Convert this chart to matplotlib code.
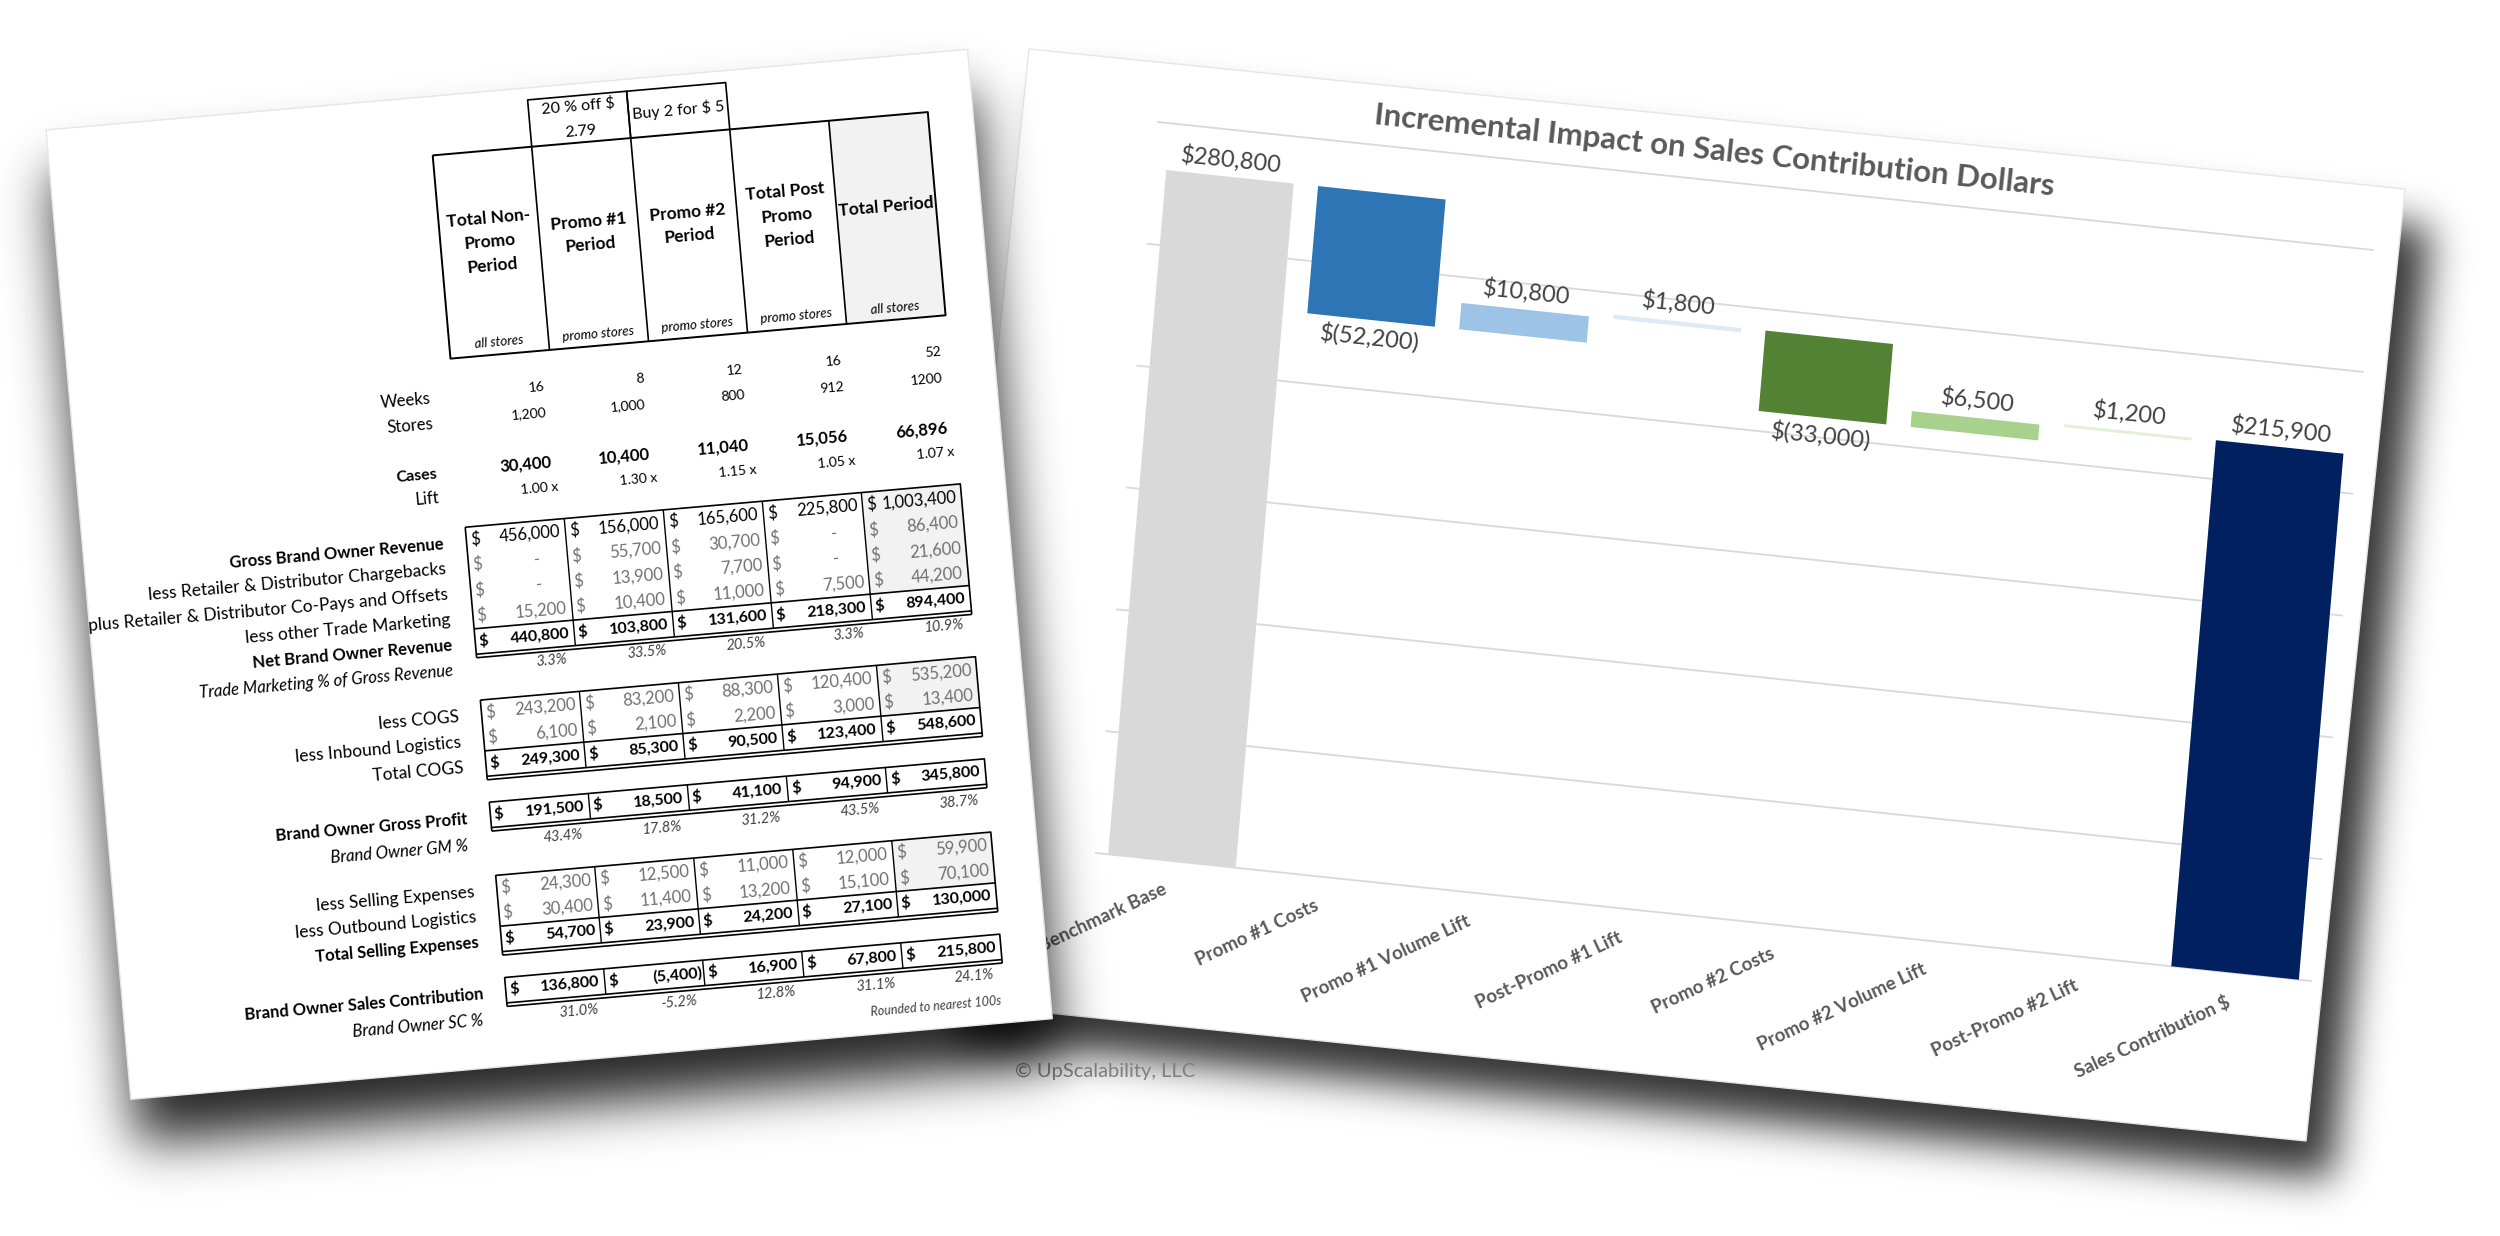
import numpy as np
import matplotlib
matplotlib.use("Agg")
import matplotlib.pyplot as plt
from matplotlib.patches import Polygon, Rectangle
from matplotlib.path import Path
from matplotlib.transforms import Affine2D

plt.rcParams['font.family'] = ['Lato', 'DejaVu Sans']

# ---------------- waterfall data ----------------
steps = ["Benchmark Base", "Promo #1 Costs", "Promo #1 Volume Lift", "Post-Promo #1 Lift",
         "Promo #2 Costs", "Promo #2 Volume Lift", "Post-Promo #2 Lift", "Sales Contribution $"]
step_values = [280800, -52200, 10800, 1800, -33000, 6500, 1200, 215900]
step_colors = ["#d9d9d9", "#2e75b6", "#9dc3e6", "#deebf7", "#548235", "#a9d18e", "#e2f0d9", "#002060"]
chart_title = "Incremental Impact on Sales Contribution Dollars"

# ---------------- table data ----------------
periods = ["Total Non-\nPromo\nPeriod", "Promo #1\nPeriod", "Promo #2\nPeriod",
           "Total Post\nPromo\nPeriod", "Total Period"]
period_scope = ["all stores", "promo stores", "promo stores", "promo stores", "all stores"]
promo_offers = ["20 % off $\n2.79", "Buy 2 for $ 5"]
weeks = ["16", "8", "12", "16", "52"]
stores = ["1,200", "1,000", "800", "912", "1200"]
cases = [30400, 10400, 11040, 15056, 66896]
lift = [1.00, 1.30, 1.15, 1.05, 1.07]
gross_rev = [456000, 156000, 165600, 225800, 1003400]
chargebacks = [0, 55700, 30700, 0, 86400]
copays = [0, 13900, 7700, 0, 21600]
other_trade = [15200, 10400, 11000, 7500, 44200]
net_rev = [440800, 103800, 131600, 218300, 894400]
trade_pct = [3.3, 33.5, 20.5, 3.3, 10.9]
cogs = [243200, 83200, 88300, 120400, 535200]
inbound = [6100, 2100, 2200, 3000, 13400]
total_cogs = [249300, 85300, 90500, 123400, 548600]
gross_profit = [191500, 18500, 41100, 94900, 345800]
gm_pct = [43.4, 17.8, 31.2, 43.5, 38.7]
selling = [24300, 12500, 11000, 12000, 59900]
outbound = [30400, 11400, 13200, 15100, 70100]
total_selling = [54700, 23900, 24200, 27100, 130000]
sales_contrib = [136800, -5400, 16900, 67800, 215800]
sc_pct = [31.0, -5.2, 12.8, 31.1, 24.1]

fig = plt.figure(figsize=(25, 12.36), dpi=100)
ax = fig.add_axes([0, 0, 1, 1])
W, H = 2500, 1236


def soft_shadow(corners, dx, dy, sigma, strength, ds=4):
    h, w = H // ds + 1, W // ds + 1
    gx, gy = np.meshgrid((np.arange(w) + 0.5) * ds - dx, (np.arange(h) + 0.5) * ds - dy)
    pts = np.column_stack([gx.ravel(), gy.ravel()])
    inside = Path(corners).contains_points(pts).reshape(h, w).astype(float)
    r = int(3 * sigma / ds)
    k = np.exp(-0.5 * (np.arange(-r, r + 1) * ds / sigma) ** 2)
    k /= k.sum()
    blur = np.apply_along_axis(lambda m: np.convolve(m, k, mode='same'), 1, inside)
    blur = np.apply_along_axis(lambda m: np.convolve(m, k, mode='same'), 0, blur)
    rgba = np.zeros((h, w, 4))
    rgba[..., 3] = blur * strength
    return rgba, (0, w * ds, h * ds, 0)


# ---------------- right sheet (chart) ----------------
right_sheet = np.array([(1029, 49), (2405, 189), (2306, 1141), (930, 1001)])
img, ext = soft_shadow(right_sheet, 26, 38, 20, 0.8)
ax.imshow(img, extent=ext, zorder=1, interpolation='bilinear')
ax.add_patch(Polygon(right_sheet, closed=True, fc='white', ec='#e6e6e6', lw=1, zorder=2))

# chart plane: u = category index, v = dollars
p00 = np.array([1096.0, 853.0])
p10 = np.array([2311.0, 981.0])
p01 = np.array([1158.0, 122.0])
eu = (p10 - p00) / len(steps)
ev = (p01 - p00) / 300000
chart_aff = Affine2D.from_values(eu[0], eu[1], ev[0], ev[1],
                                 p00[0] + 0.5 * eu[0], p00[1] + 0.5 * eu[1])
ctf = chart_aff + ax.transData
crot = -np.degrees(np.arctan2(eu[1], eu[0]))

for g in range(0, 300001, 50000):
    ax.plot([-0.5, len(steps) - 0.5], [g, g], color='#d9d9d9', lw=1.3, transform=ctf, zorder=3)

bottoms, heights, running = [], [], 0
for i, val in enumerate(step_values):
    if i == 0 or i == len(step_values) - 1:
        bottoms.append(0)
        heights.append(val)
        running = val
    else:
        bottoms.append(min(running, running + val))
        heights.append(abs(val))
        running += val

ax.bar(range(len(steps)), heights, bottom=bottoms, width=0.84, color=step_colors,
       transform=ctf, zorder=4)

for i, val in enumerate(step_values):
    txt = f"${val:,}" if val >= 0 else f"$({abs(val):,})"
    if val >= 0:
        ax.text(i, bottoms[i] + heights[i] + 2500, txt, transform=ctf, ha='center', va='bottom',
                rotation=crot, rotation_mode='anchor', fontsize=17, color='#404040', zorder=5)
    else:
        ax.text(i, bottoms[i] - 2500, txt, transform=ctf, ha='center', va='top',
                rotation=crot, rotation_mode='anchor', fontsize=17, color='#404040', zorder=5)
    ax.text(i - 0.05, -8500, steps[i], transform=ctf, ha='right', va='top', rotation=25,
            rotation_mode='anchor', fontsize=13.5, fontweight='bold', color='#595959', zorder=5)

ax.text(3.15, 312000, chart_title, transform=ctf, ha='center', va='center', rotation=crot,
        rotation_mode='anchor', fontsize=22.5, fontweight='bold', color='#595959', zorder=5)

ax.text(1105, 1071, "\u00a9 UpScalability, LLC", ha='center', va='center', fontsize=14.5,
        color='#7f7f7f', zorder=5)

# ---------------- left sheet (table) ----------------
theta = np.radians(5.0)
cs, sn = np.cos(theta), np.sin(theta)
left_aff = Affine2D.from_values(cs, -sn, sn, cs, 46, 130)
ltf = left_aff + ax.transData
lrot = 5.0
sheet_w, sheet_h = 925, 973
left_corners = left_aff.transform(np.array([(0, 0), (sheet_w, 0), (sheet_w, sheet_h), (0, sheet_h)]))
img, ext = soft_shadow(left_corners, 6, 44, 26, 0.85)
ax.imshow(img, extent=ext, zorder=6, interpolation='bilinear')
ax.add_patch(Polygon(left_corners, closed=True, fc='white', ec='#e6e6e6', lw=1, zorder=7))


def ltext(u, v, s, **kw):
    kw.setdefault('fontsize', 12.5)
    kw.setdefault('color', 'black')
    ax.text(u, v, s, transform=ltf, rotation=lrot, rotation_mode='anchor', zorder=9, **kw)


def lline(us, vs, lw=1.2, color='black'):
    ax.plot(us, vs, color=color, lw=lw, transform=ltf, zorder=9, solid_capstyle='butt')


col0, colw = 383.0, 99.4
edges = [col0 + k * colw for k in range(6)]
lab_u = 360
grey = '#707070'

# promo offers
for k, offer in enumerate(promo_offers):
    c = k + 1
    lline([edges[c], edges[c], edges[c + 1], edges[c + 1]], [59, 12, 12, 59])
    ltext((edges[c] + edges[c + 1]) / 2, 35, offer, ha='center', va='center', fontsize=11.5,
          linespacing=2.0)

# header box
ax.add_patch(Rectangle((edges[4], 59), colw, 204, fc='#f2f2f2', ec='none', transform=ltf, zorder=8))
lline([edges[0], edges[5], edges[5], edges[0], edges[0]], [59, 59, 263, 263, 59], lw=1.4)
for k in range(1, 5):
    lline([edges[k], edges[k]], [59, 263])
for k in range(5):
    cu = (edges[k] + edges[k + 1]) / 2
    ltext(cu, 150, periods[k], ha='center', va='center', fontsize=12.5, fontweight='bold',
          linespacing=1.6)
    ltext(cu, 251, period_scope[k], ha='center', va='center', fontsize=9.5, style='italic')

# volume rows
ltext(lab_u, 301, "Weeks", ha='right', va='center', fontsize=12)
ltext(lab_u, 327, "Stores", ha='right', va='center', fontsize=12)
ltext(lab_u, 377, "Cases", ha='right', va='center', fontweight='bold', fontsize=11.5)
ltext(lab_u, 401, "Lift", ha='right', va='center', fontsize=12)
for k in range(5):
    r = edges[k + 1]
    ltext(r - 8, 299, weeks[k], ha='right', va='center', fontsize=10)
    ltext(r - 8, 325, stores[k], ha='right', va='center', fontsize=10)
    ltext(r - 8, 375, f"{cases[k]:,}", ha='right', va='center', fontsize=12, fontweight='bold')
    ltext(r - 3, 400, f"{lift[k]:.2f} x", ha='right', va='center', fontsize=10)

RH = 25.5


def money_row(v, values, style):
    col = grey if style == 'detail' else 'black'
    wt = 'bold' if style == 'total' else 'normal'
    fs = 11.5 if style == 'total' else 12
    for k, val in enumerate(values):
        l, r = edges[k], edges[k + 1]
        ltext(l + 4, v, "$", ha='left', va='center', color=col, fontweight=wt, fontsize=fs)
        if val == 0:
            ltext(r - 28, v, "-", ha='right', va='center', color=col, fontweight=wt, fontsize=fs)
        elif val < 0:
            ltext(r - 1, v, f"({abs(val):,})", ha='right', va='center', color=col, fontweight=wt,
                  fontsize=fs)
        else:
            ltext(r - 5, v, f"{val:,}", ha='right', va='center', color=col, fontweight=wt,
                  fontsize=fs)


def block(v_top, rows, labels):
    n = len(rows)
    v_bot = v_top + n * RH
    shade_rows = sum(1 for _, st in rows if st != 'total')
    if shade_rows:
        ax.add_patch(Rectangle((edges[4], v_top), colw, shade_rows * RH, fc='#f2f2f2', ec='none',
                               transform=ltf, zorder=8))
    lline([edges[0], edges[5], edges[5], edges[0], edges[0]], [v_top, v_top, v_bot, v_bot, v_top])
    lline([edges[0], edges[5]], [v_bot + 3.5, v_bot + 3.5])
    lline([edges[0], edges[0]], [v_bot, v_bot + 3.5])
    lline([edges[5], edges[5]], [v_bot, v_bot + 3.5])
    if n > 1:
        lline([edges[0], edges[5]], [v_bot - RH, v_bot - RH])
    for k in range(1, 5):
        lline([edges[k], edges[k]], [v_top, v_bot], lw=1.0)
    for j, (vals, st) in enumerate(rows):
        money_row(v_top + (j + 0.5) * RH, vals, st)
    for j, (txt, wt) in enumerate(labels):
        ltext(lab_u, v_top + (j + 0.5) * RH + 2, txt, ha='right', va='center', fontweight=wt,
              fontsize=12 if wt == 'bold' else 12.5)
    return v_bot


def pct_row(v, values, label):
    ltext(lab_u - 2, v + 1, label, ha='right', va='center', style='italic', fontsize=12)
    for k, val in enumerate(values):
        ltext(edges[k + 1] - 9, v, f"{val:.1f}%", ha='right', va='center', style='italic',
              fontsize=10.5, color='#404040')


block(432.25, [(gross_rev, 'main'), (chargebacks, 'detail'), (copays, 'detail'),
               (other_trade, 'detail'), (net_rev, 'total')],
      [("Gross Brand Owner Revenue", 'bold'), ("less Retailer & Distributor Chargebacks", 'normal'),
       ("plus Retailer & Distributor Co-Pays and Offsets", 'normal'),
       ("less other Trade Marketing", 'normal'), ("Net Brand Owner Revenue", 'bold')])
pct_row(573, trade_pct, "Trade Marketing % of Gross Revenue")

block(605.75, [(cogs, 'detail'), (inbound, 'detail'), (total_cogs, 'total')],
      [("less COGS", 'normal'), ("less Inbound Logistics", 'normal'), ("Total COGS", 'normal')])

block(708.25, [(gross_profit, 'total')], [("Brand Owner Gross Profit", 'bold')])
pct_row(749, gm_pct, "Brand Owner GM %")

block(781.75, [(selling, 'detail'), (outbound, 'detail'), (total_selling, 'total')],
      [("less Selling Expenses", 'normal'), ("less Outbound Logistics", 'normal'),
       ("Total Selling Expenses", 'bold')])

block(884.25, [(sales_contrib, 'total')], [("Brand Owner Sales Contribution", 'bold')])
pct_row(924, sc_pct, "Brand Owner SC %")
ltext(edges[5] - 4, 951, "Rounded to nearest 100s", ha='right', va='center', style='italic',
      fontsize=9, color='#404040')

ax.set_xlim(0, W)
ax.set_ylim(H, 0)
ax.axis('off')
fig.savefig("out.png", dpi=100, facecolor='white')
